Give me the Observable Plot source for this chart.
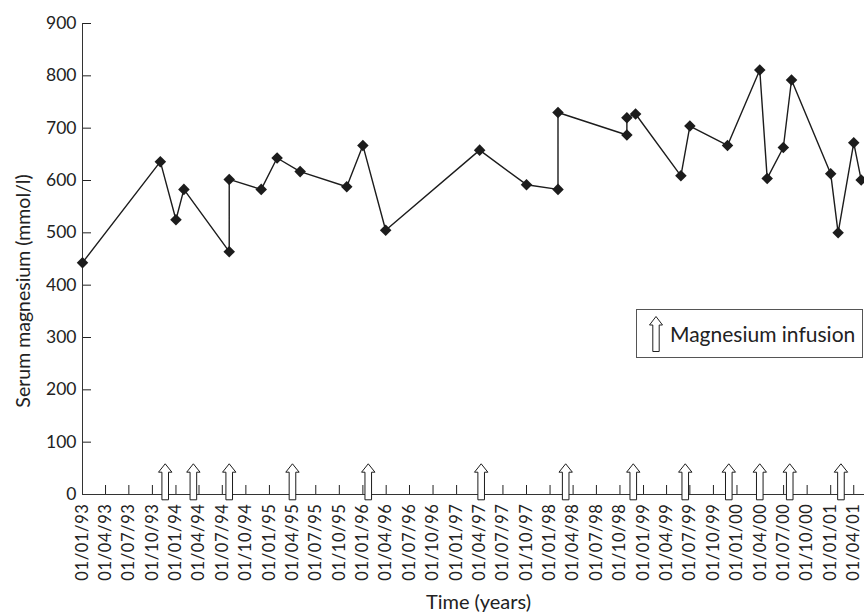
<!DOCTYPE html>
<html>
<head>
<meta charset="utf-8">
<script src="https://cdn.jsdelivr.net/npm/d3@7"></script>
<script src="https://cdn.jsdelivr.net/npm/@observablehq/plot@0.6"></script>
<style>
  html, body { margin: 0; padding: 0; background: #fff; }
  #wrap { position: relative; width: 864px; height: 612px; overflow: hidden; font-family: Lato, "Open Sans", sans-serif; }
  #legend { position: absolute; left: 636px; top: 309px; width: 225px; height: 47px; border: 1px solid #555; box-sizing: content-box; display: flex; align-items: center; color: #222; font-size: 21px; }
  #legend svg { margin-left: 11px; margin-right: 6px; }
  g[aria-label="x-axis tick label"] text { letter-spacing: 0.6px; }
  g[aria-label="y-title"] text { letter-spacing: 3px; }
  g[aria-label="x-title"] text { letter-spacing: 1.3px; }
</style>
</head>
<body>
<div id="wrap"><div id="legend"><svg width="16" height="38" viewBox="-8 -19 16 38"><path d="M0,-17.5L6.5,-9L3.2,-9L3.2,17.5L-3.2,17.5L-3.2,-9L-6.5,-9Z" fill="#fff" stroke="#222" stroke-width="1"/></svg><span>Magnesium infusion</span></div></div>
<script>
const dates = [
  "1993-01-01", "1993-11-01", "1994-01-01", "1994-02-01", "1994-07-28", "1994-07-28",
  "1994-11-30", "1995-01-31", "1995-05-01", "1995-10-30", "1996-01-01", "1996-03-30",
  "1997-04-01", "1997-10-01", "1998-02-01", "1998-02-01", "1998-10-28", "1998-10-28",
  "1998-12-01", "1999-05-27", "1999-07-01", "1999-11-25", "2000-03-30", "2000-04-28",
  "2000-06-30", "2000-08-01", "2001-01-01", "2001-01-30", "2001-04-01", "2001-04-30"
];
// Serum magnesium values
const magnesium = [
  443, 636, 525, 583, 464, 602,
  583, 643, 617, 588, 667, 505,
  658, 592, 583, 730, 687, 720,
  727, 609, 704, 667, 811, 604,
  663, 792, 613, 500, 672, 601
];
// Magnesium infusion dates (arrows)
const infusions = [
  "1993-11-20", "1994-03-10", "1994-07-28", "1995-04-01", "1996-01-22", "1997-04-07",
  "1998-03-03", "1998-11-22", "1999-06-13", "1999-11-30", "2000-03-30", "2000-07-25", "2001-02-10"
];
// X tick labels (quarterly)
const xTicks = [
  "1993-01-01","1993-04-01","1993-07-01","1993-10-01",
  "1994-01-01","1994-04-01","1994-07-01","1994-10-01",
  "1995-01-01","1995-04-01","1995-07-01","1995-10-01",
  "1996-01-01","1996-04-01","1996-07-01","1996-10-01",
  "1997-01-01","1997-04-01","1997-07-01","1997-10-01",
  "1998-01-01","1998-04-01","1998-07-01","1998-10-01",
  "1999-01-01","1999-04-01","1999-07-01","1999-10-01",
  "2000-01-01","2000-04-01","2000-07-01","2000-10-01",
  "2001-01-01","2001-04-01"
];
const yTicks = [0, 100, 200, 300, 400, 500, 600, 700, 800, 900];
const yTitle = "Serum magnesium (mmol/l)";
const xTitle = "Time (years)";

const parse = d3.utcParse("%Y-%m-%d");
const series = dates.map((d, i) => ({date: parse(d), value: magnesium[i]}));
const arrows = infusions.map(d => ({date: parse(d), value: 0}));
const tickDates = xTicks.map(parse);

// Arrow glyph anchored on the axis line (tip above, tail slightly below)
const arrowSymbol = {
  draw(ctx, size) {
    const s = Math.sqrt(size / Math.PI) / 10;
    ctx.moveTo(0, -30.7 * s);
    ctx.lineTo(6.7 * s, -22.3 * s);
    ctx.lineTo(3.3 * s, -22.3 * s);
    ctx.lineTo(3.3 * s, 5.3 * s);
    ctx.lineTo(-3.3 * s, 5.3 * s);
    ctx.lineTo(-3.3 * s, -22.3 * s);
    ctx.lineTo(-6.7 * s, -22.3 * s);
    ctx.closePath();
  }
};

const ink = "#1c1c1c";
const chart = Plot.plot({
  width: 864,
  height: 612,
  marginLeft: 82,
  marginRight: 0,
  marginTop: 23,
  marginBottom: 118,
  style: {fontFamily: "Lato, 'Open Sans', sans-serif", color: "#222", background: "white"},
  x: {type: "utc", domain: [parse("1993-01-01"), parse("2001-05-13")]},
  y: {domain: [0, 900]},
  marks: [
    Plot.axisY({ticks: yTicks, tickSize: -9, tickPadding: 15, fontSize: 17.5, label: null}),
    Plot.axisX({
      ticks: tickDates, tickSize: -9, tickPadding: 18, tickRotate: -90, fontSize: 16.5,
      tickFormat: d3.utcFormat("%d/%m/%y"), label: null
    }),
    Plot.text([yTitle], {frameAnchor: "left", textAnchor: "middle", lineAnchor: "middle", rotate: -90, dx: -59, dy: 32, fontSize: 19.5, fill: "#222", ariaLabel: "y-title"}),
    Plot.text([xTitle], {frameAnchor: "bottom", textAnchor: "middle", lineAnchor: "middle", dx: 5, dy: 108, fontSize: 20, fill: "#222", ariaLabel: "x-title"}),
    Plot.ruleY([0], {stroke: "#333"}),
    Plot.ruleX([parse("1993-01-01")], {stroke: "#333"}),
    Plot.line(series, {x: "date", y: "value", stroke: ink, strokeWidth: 1.4}),
    Plot.dot(series, {x: "date", y: "value", symbol: "diamond2", r: 5.2, fill: ink, stroke: "none"}),
    Plot.dot(arrows, {x: "date", y: "value", symbol: arrowSymbol, r: 10, fill: "white", stroke: ink, strokeWidth: 1})
  ]
});
chart.style.position = "absolute";
chart.style.left = "0";
chart.style.top = "0";
const wrap = document.getElementById("wrap");
wrap.insertBefore(chart, wrap.firstChild);
</script>
</body>
</html>
